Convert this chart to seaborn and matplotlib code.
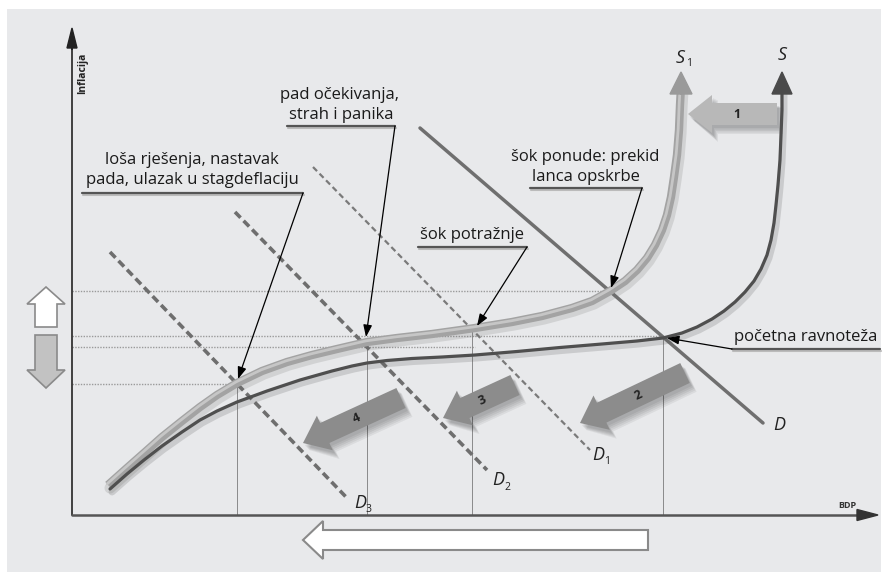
import numpy as np
import matplotlib
matplotlib.use("Agg")
import matplotlib.pyplot as plt
from matplotlib.patches import FancyArrow, Rectangle
import seaborn as sns

sns.set_theme(style="white")
plt.rcParams["font.family"] = ["Open Sans", "DejaVu Sans"]

# koordinate: BDP (x) i inflacija (y), ishodište u presjeku osi

# krivulja ponude S
s_bdp = [38, 55, 72, 90, 110, 128, 145, 165, 195, 228, 260, 280, 295, 315, 340,
         370, 403, 445, 488, 530, 565, 591, 610, 625, 640, 652, 663, 673, 682,
         689, 695, 699, 702, 704, 706, 708, 709, 710, 710]
s_infl = [26, 41, 55, 69, 83, 95, 104, 113, 124, 135, 144, 149, 152, 154.5, 156.5,
          158, 160, 163.5, 167.5, 171, 174, 177, 182, 188, 196, 204, 213, 223, 234,
          246, 260, 275, 292, 310, 330, 355, 380, 405, 428]

# krivulja ponude S1 (nakon šoka ponude)
s1_bdp = [36, 55, 72, 90, 110, 128, 145, 165, 190, 215, 240, 265, 295, 325, 360,
          403, 440, 470, 500, 520, 538, 553, 565, 575, 583, 590, 595, 599, 602,
          605, 607, 608, 609]
s1_infl = [30, 47, 62, 78, 94, 108, 120, 132, 144, 153, 160, 166, 173, 177, 181,
           187, 193, 199, 207, 214, 224, 234, 245, 257, 270, 285, 300, 318, 338,
           360, 385, 410, 428]

# pravci potražnje (početak, kraj)
d_bdp, d_infl = [348, 691], [387, 92]
d1_bdp, d1_infl = [241, 518], [348, 65]
d2_bdp, d2_infl = [163, 415], [303, 45]
d3_bdp, d3_infl = [38, 275], [263, 17]

# pomoćne razine inflacije i BDP-a
h_levels = [224, 179, 168, 131]
h_ends = [538, 591, 403, 165]
v_levels = [165, 295, 400, 591]
v_tops = [132, 175, 187, 177]

# pomaci (strelice 1-4): rep -> vrh
shift_names = ["1", "2", "3", "4"]
shift_tail = [(705, 401), (613, 142), (443, 130), (329, 117)]
shift_tip = [(616, 401), (508, 92), (371, 97), (231, 72)]
shift_colors = ["#b8b8b8", "#8c8c8c", "#8c8c8c", "#8c8c8c"]

fig = plt.figure(figsize=(8.83, 5.73), dpi=100)
fig.patch.set_facecolor("white")
ax = fig.add_axes([0, 0, 1, 1])
ax.set_xlim(-72, 811)
ax.set_ylim(-58, 515)
ax.axis("off")

ax.add_patch(Rectangle((-65, -57), 874, 563, facecolor="#e8e9eb", edgecolor="none", zorder=0))

# pomoćne linije
for lev, end in zip(h_levels, h_ends):
    ax.plot([0, end], [lev, lev], color="#9a9a9a", lw=1.0, ls=(0, (1, 1)), zorder=1)
for lev, top in zip(v_levels, v_tops):
    ax.plot([lev, lev], [0, top], color="#8a8a8a", lw=0.7, zorder=1)

# osi
ax.plot([0, 0], [0, 470], color="#333333", lw=1.3, zorder=5)
ax.add_patch(FancyArrow(0, 465, 0, 22, width=0, head_width=10, head_length=20,
                        length_includes_head=True, color="#222222", zorder=5))
ax.plot([0, 790], [0, 0], color="#555555", lw=1.8, zorder=5)
ax.add_patch(FancyArrow(785, 0, 21, 0, width=0, head_width=11, head_length=21,
                        length_includes_head=True, color="#333333", zorder=5))


def block_arrow(tail, tip, width, head_w, head_l, fc, ec="none", lw=0, shadow=True, z=2):
    dx, dy = tip[0] - tail[0], tip[1] - tail[1]
    if shadow:
        for i in range(5):
            ax.add_patch(FancyArrow(tail[0] + 2 + i, tail[1] - 3 - i, dx, dy, width=width + i,
                                    head_width=head_w + i, head_length=head_l,
                                    length_includes_head=True, color="black",
                                    alpha=0.06, lw=0, zorder=z))
    ax.add_patch(FancyArrow(tail[0], tail[1], dx, dy, width=width, head_width=head_w,
                            head_length=head_l, length_includes_head=True, facecolor=fc,
                            edgecolor=ec, lw=lw, zorder=z + 0.1))


for name, tail, tip, col in zip(shift_names, shift_tail, shift_tip, shift_colors):
    block_arrow(tail, tip, 22, 38, 24, col)
    cx = tail[0] + 0.45 * (tip[0] - tail[0])
    cy = tail[1] + 0.45 * (tip[1] - tail[1])
    ang = np.degrees(np.arctan2(tail[1] - tip[1], tail[0] - tip[0]))
    ax.text(cx, cy, name, fontsize=9, fontweight="bold", color="#222222",
            ha="center", va="center", rotation=ang if name != "1" else 0, zorder=3)

# lijeve strelice i donja strelica
block_arrow((-26, 188), (-26, 228), 22, 38, 17, "white", ec="#8a8a8a", lw=1.2, shadow=False)
block_arrow((-26, 180), (-26, 127), 22, 38, 18, "#c2c2c2", ec="#8a8a8a", lw=1.2, shadow=False)
block_arrow((576, -25), (231, -25), 20, 38, 20, "white", ec="#8a8a8a", lw=1.5, shadow=False)

# pravci potražnje
sns.lineplot(x=d_bdp, y=d_infl, ax=ax, color="#6f6f6f", lw=2.5, zorder=6, sort=False,
             estimator=None)
ax.plot(d1_bdp, d1_infl, color="#7a7a7a", lw=1.6, ls=(0, (2.6, 1.6)), zorder=6)
ax.plot(d2_bdp, d2_infl, color="#6e6e6e", lw=2.6, ls=(0, (2.2, 1.2)), zorder=6)
ax.plot(d3_bdp, d3_infl, color="#6e6e6e", lw=2.6, ls=(0, (2.2, 1.2)), zorder=6)

# krivulje ponude sa sjenom
s1x, s1y = np.array(s1_bdp), np.array(s1_infl)
sx, sy = np.array(s_bdp), np.array(s_infl)
ax.plot(s1x + 2, s1y - 3, color="#6a6a6a", lw=8, alpha=0.18, solid_capstyle="round",
        solid_joinstyle="round", zorder=7)
sns.lineplot(x=s1x, y=s1y, ax=ax, color="#a3a3a3", lw=6, sort=False, estimator=None,
             solid_capstyle="butt", solid_joinstyle="round", zorder=7)
ax.plot(s1x - 0.8, s1y + 1.2, color="#c6c6c6", lw=2, solid_joinstyle="round", zorder=7)
ax.add_patch(FancyArrow(609, 422, 0, 21, width=0, head_width=22, head_length=22,
                        length_includes_head=True, color="#9a9a9a", zorder=7))

ax.plot(sx + 2, sy - 3, color="#555555", lw=5, alpha=0.2, solid_capstyle="round",
        solid_joinstyle="round", zorder=8)
sns.lineplot(x=sx, y=sy, ax=ax, color="#4f4f4f", lw=2.3, sort=False, estimator=None,
             solid_joinstyle="round", zorder=8)
ax.add_patch(FancyArrow(710, 422, 0, 21, width=0, head_width=20, head_length=22,
                        length_includes_head=True, color="#4a4a4a", zorder=8))

# oznake krivulja
lab = dict(fontsize=13, style="italic", color="#222222", ha="center", va="center", zorder=9)
sub = dict(fontsize=7.5, color="#222222", ha="center", va="center", zorder=9)
ax.text(608, 457, "S", **lab)
ax.text(617, 451, "1", **sub)
ax.text(710, 460, "S", **lab)
ax.text(707, 90, "D", **lab)
ax.text(526, 60, "D", **lab)
ax.text(535, 53, "1", **sub)
ax.text(426, 35, "D", **lab)
ax.text(435, 28, "2", **sub)
ax.text(288, 12, "D", **lab)
ax.text(297, 5, "3", **sub)

ax.text(11, 442, "Inflacija", fontsize=7.5, fontweight="bold", rotation=90,
        ha="center", va="center", color="#222222")
ax.text(775, 9, "BDP", fontsize=6.5, fontweight="bold", ha="center", va="center",
        color="#333333")

# opisi s pokazivačima
txt = dict(fontsize=12, color="#1a1a1a", va="center", zorder=9)


def leader(start, end):
    ax.annotate("", xy=end, xytext=start,
                arrowprops=dict(arrowstyle="-|>,head_length=0.6,head_width=0.22",
                                color="black", lw=0.9, shrinkA=0, shrinkB=0), zorder=9)


def underline(x0, x1, y):
    ax.plot([x0 + 1, x1 + 1], [y - 1.5, y - 1.5], color="#bbbbbb", lw=1.5, zorder=8)
    ax.plot([x0, x1], [y, y], color="#555555", lw=1.6, zorder=9)


ax.text(268, 420, "pad očekivanja,", ha="center", **txt)
ax.text(269, 400, "strah i panika", ha="center", **txt)
underline(215, 323, 389)
leader((323, 389), (294, 178))

ax.text(120, 355, "loša rješenja, nastavak", ha="center", **txt)
ax.text(120, 335, "pada, ulazak u stagdeflaciju", ha="center", **txt)
underline(10, 231, 322)
leader((231, 322), (166, 136))

ax.text(400, 280, "šok potražnje", ha="center", **txt)
underline(346, 455, 268)
leader((455, 268), (405, 189))

ax.text(513, 358, "šok ponude: prekid", ha="center", **txt)
ax.text(514, 338, "lanca opskrbe", ha="center", **txt)
underline(458, 570, 327)
leader((570, 327), (539, 227))

ax.text(734, 178, "početna ravnoteža", ha="center", **txt)
underline(660, 808, 166)
leader((660, 166), (595, 177))

fig.savefig("out.png", dpi=100)
